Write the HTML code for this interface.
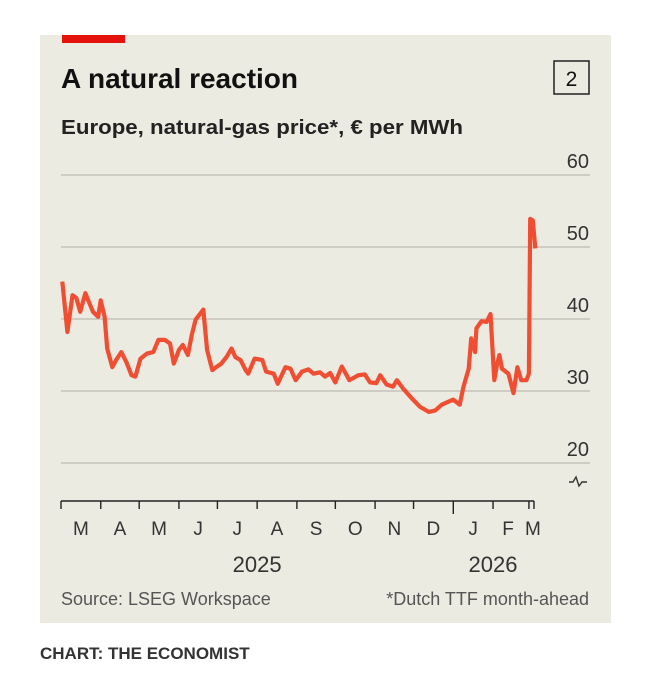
<!DOCTYPE html>
<html><head><meta charset="utf-8"><style>
body{margin:0;background:#fff;width:654px;height:684px;overflow:hidden;font-family:"Liberation Sans",sans-serif;}
svg text{font-family:"Liberation Sans",sans-serif;}
</style></head><body>
<svg width="654" height="684">
<rect x="40" y="35" width="571" height="588" fill="#ecebe1"/>
<rect x="62" y="35" width="63" height="8" fill="#e3120b"/>
<text x="61" y="88" font-size="28" font-weight="bold" fill="#111">A natural reaction</text>
<rect x="554" y="61" width="35" height="33" fill="none" stroke="#222" stroke-width="1.5"/>
<text x="571.5" y="86" font-size="21" text-anchor="middle" fill="#111">2</text>
<text x="61" y="134" font-size="20" font-weight="bold" fill="#222" textLength="402" lengthAdjust="spacingAndGlyphs">Europe, natural-gas price*, € per MWh</text>
<g id="grid"></g>
<g id="xaxis"></g>
<path d="M569 482 l4 0 l3 -5 l3 9 l3 -4 l5 0" fill="none" stroke="#333" stroke-width="1.4"/>
<path id="line" fill="none" stroke="#f04e33" stroke-width="4.2" stroke-linejoin="round"/>
<text x="61" y="605" font-size="18" fill="#555">Source: LSEG Workspace</text>
<text x="589" y="605" font-size="18" fill="#555" text-anchor="end">*Dutch TTF month-ahead</text>
<text x="40" y="659" font-size="17" font-weight="bold" fill="#333">CHART: THE ECONOMIST</text>
</svg>
<script>
// days since 2025-03-01
const days=[1,5,9,12,15,19,21,25,29,31,34,36,40,43,47,51,55,58,62,67,72,76,81,85,88,92,95,99,102,105,111,114,118,121,125,129,133,136,140,144,146,151,157,160,166,169,175,179,183,188,193,197,202,206,210,214,219,225,232,237,241,246,249,254,259,262,267,274,280,287,292,297,302,306,311,314,318,320,323,324,328,332,335,338,340,342,344,349,353,356,359,363,365,366,368,370];
const prices=[45.2,38.2,43.3,42.9,41,43.6,42.7,41,40.3,42.6,40.3,35.9,33.3,34.3,35.4,34,32.2,32,34.5,35.2,35.4,37.1,37.1,36.6,33.8,35.7,36.4,35,37.8,39.9,41.3,35.7,32.9,33.3,33.8,34.7,35.9,34.7,34.3,32.9,32.4,34.5,34.3,32.7,32.4,31,33.3,33.1,31.5,32.7,33,32.4,32.6,32,32.5,31.2,33.4,31.5,32.2,32.3,31.2,31.1,32.2,30.9,30.6,31.5,30.3,28.9,27.8,27.1,27.3,28.1,28.5,28.8,28.1,30.6,33.1,37.3,35.4,38.7,39.7,39.6,40.7,31.5,33.6,35,33.1,32.4,29.7,33.3,31.5,31.5,32.4,53.9,53.7,49.8];
const yTicks=[20,30,40,50,60];
const monthLabels=["M","A","M","J","J","A","S","O","N","D","J","F","M"];
const monthStartDays=[0,31,61,92,122,153,184,214,245,275,306,337,365];
const years=["2025","2026"];
const yearDays=[153,337];
const NS="http://www.w3.org/2000/svg";
const x=d=>61+d*1.282;
const y=v=>463-(v-20)*7.2;
const grid=document.getElementById('grid'),xa=document.getElementById('xaxis');
function mk(tag,attrs,parent,txt){const e=document.createElementNS(NS,tag);for(const k in attrs)e.setAttribute(k,attrs[k]);if(txt!==undefined)e.textContent=txt;parent.appendChild(e);return e;}
yTicks.forEach(t=>{
 const l=mk('line',{x1:61,x2:590,y1:y(t),y2:y(t),stroke:'#c4c3b9','stroke-width':1.5},grid);
 
 
 const tx=mk('text',{x:589,y:y(t)-7,'font-size':20,'text-anchor':'end',fill:'#333'},grid,String(t));
 
 
});
const ax=mk('line',{x1:61,x2:534,y1:501,y2:501,stroke:'#222','stroke-width':1.6},xa);


monthStartDays.forEach((d,i)=>{
 const long=(i==10);
 const tk=mk('line',{x1:x(d),x2:x(d),y1:501,y2:long?514:509,stroke:'#222','stroke-width':1.4},xa);
 
 
});
const et=mk('line',{x1:534,x2:534,y1:501,y2:509,stroke:'#222','stroke-width':1.4},xa);


monthLabels.forEach((m,i)=>{
 const d0=monthStartDays[i],d1=i<12?monthStartDays[i+1]:368;
 let cx=i<12?x((d0+d1)/2):x(d0)+4;
 if(i==11)cx=x(d0)+15;
 const t=mk('text',{x:cx,y:535,'font-size':19,'text-anchor':'middle',fill:'#333'},xa,m);
 
 
});
years.forEach((yr,i)=>{
 const t=mk('text',{x:x(yearDays[i])+0,y:572,'font-size':22,'text-anchor':'middle',fill:'#333'},xa,yr);
 
 
});
document.getElementById('line').setAttribute('d',days.map((d,i)=>(i?'L':'M')+x(d).toFixed(1)+' '+y(prices[i]).toFixed(1)).join(' '));
</script>
</body></html>
